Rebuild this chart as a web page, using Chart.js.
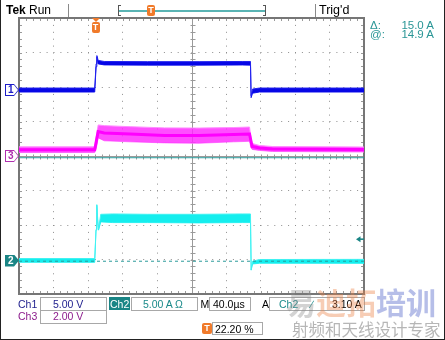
<!DOCTYPE html>
<html>
<head>
<meta charset="utf-8">
<script src="https://cdn.jsdelivr.net/npm/chart.js@4.4.1/dist/chart.umd.min.js"></script>
<style>
  body { margin: 0; background: #fff; }
  #scope { position: relative; width: 445px; height: 340px; overflow: hidden; background: #fff;
           font-family: "Liberation Sans", Arial, sans-serif; }
  #scope canvas { position: absolute; left: 0; top: 0; }
  .t { position: absolute; white-space: nowrap; line-height: 1; }
  .box { position: absolute; border: 1px solid #a8a8a8; box-sizing: border-box; }
  .tmark { position: absolute; background: #f07a2a; color: #fff; font: bold 9px "Liberation Sans", Arial, sans-serif;
           text-align: center; line-height: 11px; border-radius: 2px; }
  .mk { position: absolute; left: 5px; width: 14px; height: 12px;
        clip-path: polygon(0 0, 9px 0, 14px 6px, 9px 12px, 0 12px); }
  .mk-in { position: absolute; left: 1px; top: 1px; width: 12px; height: 10px; box-sizing: border-box; padding-left: 2px;
           clip-path: polygon(0 0, 8px 0, 12px 5px, 8px 10px, 0 10px);
           font: bold 10px "Liberation Sans", Arial, sans-serif; line-height: 10px; }
  .edge { position: absolute; left: 0; top: 0; width: 445px; height: 340px; box-sizing: border-box;
          border-left: 1px solid #222; border-right: 1px solid #222; border-bottom: 1px solid #222; pointer-events: none; }
  .wm { position: absolute; white-space: nowrap; font-family: "Noto Sans CJK SC", sans-serif; line-height: 1; }
</style>
</head>
<body>
<div id="scope">
  <canvas id="scopeChart" width="445" height="340"></canvas>

  <div class="t" style="left:6px; top:3.5px; font-size:12px; font-weight:bold;">Tek</div>
  <div class="t" style="left:29px; top:3.5px; font-size:12px;">Run</div>
  <div class="t" style="left:319px; top:3.5px; font-size:12.5px;">Trig'd</div>
  <div class="tmark" style="left:147px; top:5px; width:8px; height:11px;">T</div>

  <div class="t" style="left:370px; top:19.5px; font-size:11.5px; color:#2a9696;">Δ:</div>
  <div class="t" style="right:11px; top:19.5px; font-size:11.5px; color:#2a9696;">15.0 A</div>
  <div class="t" style="left:370px; top:28.5px; font-size:11.5px; color:#2a9696;">@:</div>
  <div class="t" style="right:11px; top:28.5px; font-size:11.5px; color:#2a9696;">14.9 A</div>

  <div id="trigTri" style="position:absolute; width:0; height:0; border-left:4px solid transparent; border-right:4px solid transparent; border-top:4px solid #f07a2a;"></div>
  <div id="trigBox" class="tmark" style="width:8px; height:11px;">T</div>

  <!-- bottom readouts -->
  <div class="box" style="left:40px; top:296.5px; width:67px; height:14px;"></div>
  <div class="box" style="left:40px; top:309.5px; width:67px; height:14px;"></div>
  <div class="t" style="left:18px; top:298.6px; font-size:10.5px; color:#1c1c8c;">Ch1</div>
  <div class="t" style="left:53px; top:298.6px; font-size:10.5px; color:#1c1c8c;">5.00 V</div>
  <div class="t" style="left:18px; top:311.3px; font-size:10.5px; color:#8c1c8c;">Ch3</div>
  <div class="t" style="left:53px; top:311.3px; font-size:10.5px; color:#8c1c8c;">2.00 V</div>

  <div style="position:absolute; left:109px; top:297px; width:21px; height:12.5px; background:#1a8585;"></div>
  <div class="t" style="left:110px; top:298.6px; font-size:10.5px; color:#fff;">Ch2</div>
  <div class="box" style="left:131px; top:296.5px; width:67px; height:14px;"></div>
  <div class="t" style="left:143px; top:298.6px; font-size:10.5px; color:#1a8a8a;">5.00 A Ω</div>
  <div class="t" style="left:200.5px; top:298.6px; font-size:10.5px;">M</div>
  <div class="box" style="left:209px; top:296.5px; width:42px; height:14px;"></div>
  <div class="t" style="left:213px; top:298.6px; font-size:10.5px;">40.0µs</div>
  <div class="t" style="left:262px; top:298.6px; font-size:10.5px;">A</div>
  <div class="box" style="left:269px; top:296.5px; width:96px; height:14px;"></div>
  <div class="t" style="left:279px; top:298.6px; font-size:10.5px; color:#1a8a8a;">Ch2</div>
  <div class="t" style="left:311px; top:298.6px; font-size:10.5px; color:#1a8a8a;">∕</div>
  <div class="t" style="left:332px; top:298.6px; font-size:10.5px;">3.10 A</div>

  <div class="tmark" style="left:202px; top:322.5px; width:10px; height:11px;">T</div>
  <div class="box" style="left:212px; top:321.5px; width:51px; height:13.5px;"></div>
  <div class="t" style="left:215px; top:323.6px; font-size:10.5px;">22.20 %</div>

  <!-- watermark -->
  <div class="wm" style="left:286px; top:286px; font-size:30px; font-weight:bold;">
    <span style="color:rgba(140,140,140,0.38);">易</span><span style="color:rgba(235,130,70,0.4);">迪拓</span><span style="color:rgba(80,100,200,0.42);">培训</span>
  </div>
  <div class="wm" style="left:292px; top:321px; font-size:16.5px; color:rgba(110,110,110,0.5);">射频和天线设计专家</div>

  <div class="edge"></div>
</div>

<script>
// Horizontal: 40 us/div, trigger at 22.20 % of the record
const usPerDiv = 40;
const gridTimes = [-88.8, -48.8, -8.8, 31.2, 71.2, 111.2, 151.2, 191.2, 231.2, 271.2, 311.2];
const gridDivs = [-4, -3, -2, -1, 0, 1, 2, 3, 4];

// Channel settings: volts (or amps) per division and ground position in divisions
const ch1Scale = 5, ch1Pos = 1.91;   // V
const ch2Scale = 5, ch2Pos = -3.03;  // A
const ch3Scale = 2, ch3Pos = 0;      // V

// Ch1 (blue), volts: upper and lower edge of the noisy trace
const ch1Time  = [-88.8, -1.0, 0.6, 1.5, 3.0, 10, 60, 120, 170, 179.6, 180.3, 182, 190, 311.2];
const ch1Upper = [0.30, 0.30, 3.8, 5.0, 4.3, 4.15, 4.12, 4.12, 4.15, 4.15, -0.8, 0.15, 0.30, 0.30];
const ch1Lower = [-0.28, -0.28, 3.4, 4.8, 3.8, 3.65, 3.62, 3.62, 3.64, 3.62, -1.1, -0.45, -0.28, -0.28];

// Ch3 (magenta), volts: noise envelope and its dense middle
const ch3Time  = [-88.8, -1.0, 1.0, 3.0, 10, 40, 80, 120, 160, 178.5, 180.0, 181.5, 190, 205, 311.2];
const ch3Upper = [0.53, 0.53, 1.2, 1.80, 1.76, 1.70, 1.63, 1.62, 1.65, 1.68, 1.1, 0.73, 0.61, 0.55, 0.52];
const ch3Mid   = [0.36, 0.36, 0.9, 1.42, 1.34, 1.28, 1.19, 1.19, 1.25, 1.28, 0.9, 0.55, 0.47, 0.41, 0.38];
const ch3Lower = [0.20, 0.20, 0.5, 1.05, 0.88, 0.82, 0.76, 0.74, 0.82, 0.85, 0.5, 0.38, 0.32, 0.26, 0.23];

// Ch2 (cyan), amps: noise envelope
const ch2Time  = [-88.8, -1.0, 0.5, 1.4, 2.5, 3.5, 6, 20, 60, 120, 170, 179.6, 180.4, 182, 190, 311.2];
const ch2Upper = [0.29, 0.29, 4.5, 8.1, 6.0, 4.6, 6.7, 6.75, 6.7, 6.7, 6.75, 6.75, -1.35, -0.1, 0.15, 0.17];
const ch2Lower = [-0.26, -0.26, 4.4, 8.0, 5.4, 4.4, 5.6, 5.5, 5.5, 5.45, 5.5, 5.5, -1.4, -0.5, -0.4, -0.41];

// Cursors on Ch2 (amps) and trigger level
const cursorAmps = [14.9, -0.1];
const trigLevelAmps = 3.10;

const toDivs = (times, vals, pos, scale) => times.map((t, i) => ({ x: t, y: pos + vals[i] / scale }));
const hLine = (val, pos, scale) => [{ x: gridTimes[0], y: pos + val / scale }, { x: gridTimes[10], y: pos + val / scale }];

const trace = (label, data, color, width, extra) => Object.assign({
  label, data, borderColor: color, backgroundColor: color, borderWidth: width,
  pointRadius: 0, tension: 0, fill: false
}, extra);

const teal = '#2a9a9a';

// Graticule, trigger level arrow and header decorations
const scopePlugin = {
  id: 'scope',
  beforeDatasetsDraw(chart) {
    const { ctx, chartArea: a, scales: { x, y } } = chart;
    const mx = (a.right - a.left) / 50, my = (a.bottom - a.top) / 40;
    const cx = Math.round(x.getPixelForValue(gridTimes[5])) + 0.5;
    const cy = Math.round(y.getPixelForValue(0)) + 0.5;
    ctx.save();
    ctx.strokeStyle = '#9a9a9a';
    ctx.lineWidth = 1;
    ctx.beginPath();
    ctx.moveTo(cx, a.top); ctx.lineTo(cx, a.bottom);
    ctx.moveTo(a.left, cy); ctx.lineTo(a.right, cy);
    for (let i = 1; i < 50; i++) {
      const px = Math.round(a.left + i * mx) + 0.5;
      ctx.moveTo(px, cy - 2); ctx.lineTo(px, cy + 3);
      ctx.moveTo(px, a.top); ctx.lineTo(px, a.top + 3);
      ctx.moveTo(px, a.bottom); ctx.lineTo(px, a.bottom - 3);
    }
    for (let i = 1; i < 40; i++) {
      const py = Math.round(a.top + i * my) + 0.5;
      ctx.moveTo(cx - 2, py); ctx.lineTo(cx + 3, py);
      ctx.moveTo(a.left, py); ctx.lineTo(a.left + 3, py);
      ctx.moveTo(a.right, py); ctx.lineTo(a.right - 3, py);
    }
    ctx.stroke();
    ctx.strokeStyle = '#767676';
    ctx.lineWidth = 2;
    ctx.strokeRect(a.left, a.top, a.right - a.left, a.bottom - a.top);
    ctx.restore();
  },
  afterDatasetsDraw(chart) {
    const { ctx, chartArea: a, scales: { y } } = chart;
    const ty = y.getPixelForValue(ch2Pos + trigLevelAmps / ch2Scale);
    ctx.save();
    ctx.fillStyle = '#1a8585';
    ctx.strokeStyle = '#1a8585';
    ctx.beginPath();
    ctx.moveTo(a.right - 8, ty); ctx.lineTo(a.right - 3.5, ty - 3); ctx.lineTo(a.right - 3.5, ty + 3);
    ctx.closePath(); ctx.fill();
    ctx.lineWidth = 1.5;
    ctx.beginPath(); ctx.moveTo(a.right - 5, ty); ctx.lineTo(a.right, ty); ctx.stroke();
    ctx.restore();
  },
  afterDraw(chart) {
    const ctx = chart.ctx;
    const seg = (x1, y1, x2, y2) => { ctx.moveTo(x1, y1); ctx.lineTo(x2, y2); };
    ctx.save();
    ctx.lineWidth = 1;
    ctx.strokeStyle = '#8a8a8a';
    ctx.beginPath();
    seg(68.5, 4, 68.5, 17); seg(315.5, 4, 315.5, 17);
    ctx.stroke();
    ctx.strokeStyle = '#555';
    ctx.beginPath();
    seg(118.5, 5, 118.5, 16); seg(118.5, 5.5, 121, 5.5); seg(118.5, 15.5, 121, 15.5);
    seg(265.5, 5, 265.5, 16); seg(265.5, 5.5, 263, 5.5); seg(265.5, 15.5, 263, 15.5);
    ctx.stroke();
    ctx.strokeStyle = '#5ab4b4';
    ctx.lineWidth = 2;
    ctx.beginPath(); seg(119, 11, 265, 11); ctx.stroke();
    ctx.restore();
  }
};

const chart = new Chart(document.getElementById('scopeChart'), {
  type: 'line',
  data: {
    datasets: [
      trace('Ch3 upper', toDivs(ch3Time, ch3Upper, ch3Pos, ch3Scale), '#ff8aff', 1, { fill: '+1', backgroundColor: 'rgba(255,40,255,0.82)', order: 6 }),
      trace('Ch3 lower', toDivs(ch3Time, ch3Lower, ch3Pos, ch3Scale), '#ff8aff', 1, { order: 6 }),
      trace('Ch3', toDivs(ch3Time, ch3Mid, ch3Pos, ch3Scale), '#ff00ff', 3, { order: 5 }),
      trace('Ch1 upper', toDivs(ch1Time, ch1Upper, ch1Pos, ch1Scale), '#2020ee', 1, { fill: '+1', backgroundColor: '#0606e6', order: 4 }),
      trace('Ch1 lower', toDivs(ch1Time, ch1Lower, ch1Pos, ch1Scale), '#2020ee', 1, { order: 4 }),
      trace('Ch2 upper', toDivs(ch2Time, ch2Upper, ch2Pos, ch2Scale), '#40f2f2', 1, { fill: '+1', backgroundColor: '#14eeee', order: 3 }),
      trace('Ch2 lower', toDivs(ch2Time, ch2Lower, ch2Pos, ch2Scale), '#40f2f2', 1, { order: 3 }),
      trace('Cursor a', hLine(cursorAmps[0], ch2Pos, ch2Scale), teal, 1, { order: 1 }),
      trace('Cursor b', hLine(cursorAmps[1], ch2Pos, ch2Scale), teal, 1, { borderDash: [3, 3], order: 1 })
    ]
  },
  options: {
    responsive: false,
    animation: false,
    events: [],
    layout: { padding: { left: 19, top: 18, right: 81, bottom: 46 } },
    plugins: { legend: { display: false }, tooltip: { enabled: false } },
    scales: {
      x: {
        type: 'linear', min: gridTimes[0], max: gridTimes[10],
        afterBuildTicks: s => { s.ticks = gridTimes.map(v => ({ value: v })); },
        ticks: { display: false },
        grid: { drawTicks: false, color: c => [0, 5, 10].includes(c.index) ? 'rgba(0,0,0,0)' : '#8e8e8e' },
        border: { display: false, dash: [1, 5.9] }
      },
      y: {
        type: 'linear', min: -4, max: 4,
        afterBuildTicks: s => { s.ticks = gridDivs.map(v => ({ value: v })); },
        ticks: { display: false },
        grid: { drawTicks: false, color: c => [0, 4, 8].includes(c.index) ? 'rgba(0,0,0,0)' : '#8e8e8e' },
        border: { display: false, dash: [1, 5.9] }
      }
    }
  },
  plugins: [scopePlugin]
});

// Trigger position marker and channel ground markers follow the scales
const tx = chart.scales.x.getPixelForValue(0);
document.getElementById('trigTri').style.left = (tx - 4) + 'px';
document.getElementById('trigTri').style.top = '18px';
document.getElementById('trigBox').style.left = (tx - 4) + 'px';
document.getElementById('trigBox').style.top = '22px';

const markers = [['1', ch1Pos, '#1c1cc8', false], ['3', ch3Pos, '#b030b0', false], ['2', ch2Pos, '#1a8585', true]];
markers.forEach(([label, pos, color, filled]) => {
  const outer = document.createElement('div');
  outer.className = 'mk';
  outer.style.top = (chart.scales.y.getPixelForValue(pos) - 6) + 'px';
  outer.style.background = color;
  const inner = document.createElement('div');
  inner.className = 'mk-in';
  inner.style.background = filled ? color : '#fff';
  inner.style.color = filled ? '#fff' : color;
  inner.textContent = label;
  outer.appendChild(inner);
  document.getElementById('scope').appendChild(outer);
});
</script>
</body>
</html>
